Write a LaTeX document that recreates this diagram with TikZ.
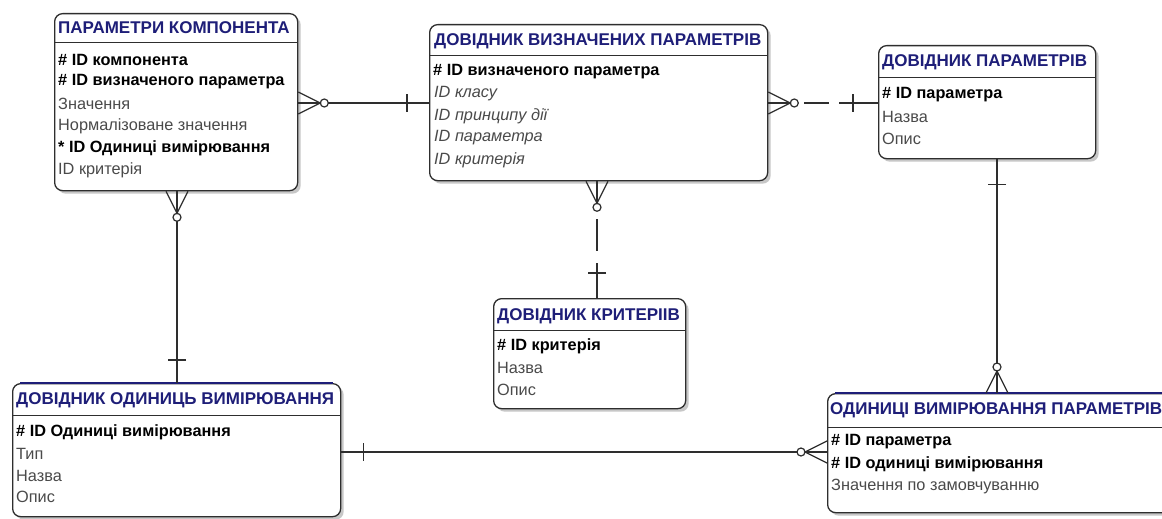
\documentclass[tikz,border=0pt]{standalone}
\usepackage{fontspec}
\setmainfont{Liberation Sans}
\usetikzlibrary{calc,shadows}
\definecolor{titleblue}{HTML}{1E1E78}
\definecolor{attgray}{HTML}{4A4A4A}
\definecolor{edge}{HTML}{2E2E2E}

\tikzset{
  entity/.style={draw=edge, line width=1.3pt, rounded corners=8pt, fill=white,
    anchor=north west, inner sep=0pt,
    drop shadow={shadow xshift=3pt, shadow yshift=-3pt, fill=black!40, opacity=0.55}},
  sepline/.style={draw=edge, line width=1pt},
  etitle/.style={anchor=west, inner sep=0pt, text=titleblue,
    font=\fontsize{17}{19}\selectfont\bfseries},
  keyrow/.style={anchor=west, inner sep=0pt, text=black,
    font=\fontsize{16.3}{18}\selectfont\bfseries},
  attrow/.style={anchor=west, inner sep=0pt, text=attgray,
    font=\fontsize{16.3}{18}\selectfont},
  fkrow/.style={anchor=west, inner sep=0pt, text=attgray,
    font=\fontsize{16.3}{18}\selectfont\itshape},
  conn/.style={draw=edge, line width=1.2pt},
  crowfoot/.pic={
    \draw[conn] (0,-11) -- (22,0) -- (0,11);
    \draw[conn] (0,0) -- (22,0);
    \draw[conn] (26,0) circle (4);
  },
  bar/.pic={\draw[conn] (0,-9) -- (0,9);}
}

\begin{document}
\begin{tikzpicture}[x=1pt,y=-1pt]
\clip (0,0) rectangle (1162,519);
\fill[white] (0,0) rectangle (1162,519);

% ---------- entities ----------
% ПАРАМЕТРИ КОМПОНЕНТА
\node[entity, minimum width=243pt, minimum height=177pt] (pc) at (54,13) {};
\draw[sepline] ($(pc.north west)+(0,30)$) -- ($(pc.north east)+(0,30)$);
\node[etitle] (pcT) at ($(pc.north west)+(4,15)$) {ПАРАМЕТРИ КОМПОНЕНТА};
\node[keyrow] (pc1) at ($(pc.north west)+(4,47)$) {\# ID компонента};
\node[keyrow] (pc2) at ($(pc.north west)+(4,69)$) {\# ID визначеного параметра};
\node[attrow] (pc3) at ($(pc.north west)+(4,91)$) {Значення};
\node[attrow] (pc4) at ($(pc.north west)+(4,113)$) {Нормалізоване значення};
\node[keyrow] (pc5) at ($(pc.north west)+(4,135)$) {* ID Одиниці вимірювання};
\node[attrow] (pc6) at ($(pc.north west)+(4,157)$) {ID критерія};

% ДОВІДНИК ВИЗНАЧЕНИХ ПАРАМЕТРІВ
\node[entity, minimum width=338pt, minimum height=156pt] (dv) at (429,24) {};
\draw[sepline] ($(dv.north west)+(0,32)$) -- ($(dv.north east)+(0,32)$);
\node[etitle] (dvT) at ($(dv.north west)+(5,17)$) {ДОВІДНИК ВИЗНАЧЕНИХ ПАРАМЕТРІВ};
\node[keyrow] (dv1) at ($(dv.north west)+(4,48)$) {\# ID визначеного параметра};
\node[fkrow] (dv2) at ($(dv.north west)+(5,70)$) {ID класу};
\node[fkrow] (dv3) at ($(dv.north west)+(5,92)$) {ID принципу дії};
\node[fkrow] (dv4) at ($(dv.north west)+(5,114)$) {ID параметра};
\node[fkrow] (dv5) at ($(dv.north west)+(5,136)$) {ID критерія};

% ДОВІДНИК ПАРАМЕТРІВ
\node[entity, minimum width=217pt, minimum height=113pt] (dp) at (878,45) {};
\draw[sepline] ($(dp.north west)+(0,33)$) -- ($(dp.north east)+(0,33)$);
\node[etitle] (dpT) at ($(dp.north west)+(4,17)$) {ДОВІДНИК ПАРАМЕТРІВ};
\node[keyrow] (dp1) at ($(dp.north west)+(4,50)$) {\# ID параметра};
\node[attrow] (dp2) at ($(dp.north west)+(4,72)$) {Назва};
\node[attrow] (dp3) at ($(dp.north west)+(4,94)$) {Опис};

% ДОВІДНИК ОДИНИЦЬ ВИМІРЮВАННЯ
\node[entity, minimum width=328pt, minimum height=133pt] (du) at (12,383) {};
\draw[titleblue, line width=1.3pt] ($(du.north west)+(8,0)$) -- ($(du.north east)+(-8,0)$);
\draw[sepline] ($(du.north west)+(0,32)$) -- ($(du.north east)+(0,32)$);
\node[etitle] (duT) at ($(du.north west)+(4,17)$) {ДОВІДНИК ОДИНИЦЬ ВИМІРЮВАННЯ};
\node[keyrow] (du1) at ($(du.north west)+(4,49)$) {\# ID Одиниці вимірювання};
\node[attrow] (du2) at ($(du.north west)+(4,71)$) {Тип};
\node[attrow] (du3) at ($(du.north west)+(4,93)$) {Назва};
\node[attrow] (du4) at ($(du.north west)+(4,114)$) {Опис};

% ОДИНИЦІ ВИМІРЮВАННЯ ПАРАМЕТРІВ
\node[entity, minimum width=348pt, minimum height=119pt] (up) at (827,393) {};
\draw[titleblue, line width=1.3pt] ($(up.north west)+(8,0)$) -- ($(up.north east)+(-8,0)$);
\draw[sepline] ($(up.north west)+(0,34)$) -- ($(up.north east)+(0,34)$);
\node[etitle] (upT) at ($(up.north west)+(3,17)$) {ОДИНИЦІ ВИМІРЮВАННЯ ПАРАМЕТРІВ};
\node[keyrow] (up1) at ($(up.north west)+(4,49)$) {\# ID параметра};
\node[keyrow] (up2) at ($(up.north west)+(4,71)$) {\# ID одиниці вимірювання};
\node[attrow] (up3) at ($(up.north west)+(4,94)$) {Значення по замовчуванню};

% ДОВІДНИК КРИТЕРІІВ
\node[entity, minimum width=192pt, minimum height=110pt] (dk) at (493,298) {};
\draw[sepline] ($(dk.north west)+(0,32)$) -- ($(dk.north east)+(0,32)$);
\node[etitle] (dkT) at ($(dk.north west)+(4,18)$) {ДОВІДНИК КРИТЕРІІВ};
\node[keyrow] (dk1) at ($(dk.north west)+(4,48)$) {\# ID критерія};
\node[attrow] (dk2) at ($(dk.north west)+(4,70)$) {Назва};
\node[attrow] (dk3) at ($(dk.north west)+(4,92)$) {Опис};

% ---------- relationships ----------
% ПАРАМЕТРИ КОМПОНЕНТА >o---|- ДОВІДНИК ВИЗНАЧЕНИХ ПАРАМЕТРІВ
\coordinate (r1a) at ($(pc.north east)+(0,90)$);
\coordinate (r1b) at (r1a -| dv.west);
\pic at (r1a) {crowfoot};
\draw[conn] ($(r1a)+(30,0)$) -- (r1b);
\pic at ($(r1b)+(-22,0)$) {bar};

% ДОВІДНИК ВИЗНАЧЕНИХ ПАРАМЕТРІВ >o- - -|- ДОВІДНИК ПАРАМЕТРІВ
\coordinate (r2a) at ($(dv.north east)+(0,79)$);
\coordinate (r2b) at (r2a -| dp.west);
\pic at (r2a) {crowfoot};
\draw[conn] ($(r2a)+(36,0)$) -- ($(r2a)+(61,0)$);
\draw[conn] ($(r2a)+(71,0)$) -- (r2b);
\pic at ($(r2b)+(-25,0)$) {bar};

% ДОВІДНИК ВИЗНАЧЕНИХ ПАРАМЕТРІВ >o- - -|- ДОВІДНИК КРИТЕРІІВ
\coordinate (r3a) at ($(dv.south west)+(168,0)$);
\coordinate (r3b) at (r3a |- dk.north);
\pic[rotate=-90] at (r3a) {crowfoot};
\draw[conn] ($(r3a)+(0,38)$) -- ($(r3a)+(0,70)$);
\draw[conn] ($(r3a)+(0,82)$) -- (r3b);
\pic[rotate=-90] at ($(r3b)+(0,-25)$) {bar};

% ПАРАМЕТРИ КОМПОНЕНТА >o---|- ДОВІДНИК ОДИНИЦЬ ВИМІРЮВАННЯ
\coordinate (r4a) at ($(pc.south west)+(123,0)$);
\coordinate (r4b) at (r4a |- du.north);
\pic[rotate=-90] at (r4a) {crowfoot};
\draw[conn] ($(r4a)+(0,30)$) -- (r4b);
\pic[rotate=-90] at ($(r4b)+(0,-23)$) {bar};

% ДОВІДНИК ПАРАМЕТРІВ -|---o< ОДИНИЦІ ВИМІРЮВАННЯ ПАРАМЕТРІВ
\coordinate (r5a) at ($(dp.south west)+(119,0)$);
\coordinate (r5b) at (r5a |- up.north);
\pic[rotate=90] at (r5b) {crowfoot};
\draw[conn] (r5a) -- ($(r5b)+(0,-30)$);
\pic[rotate=-90] at ($(r5a)+(0,25)$) {bar};

% ДОВІДНИК ОДИНИЦЬ ВИМІРЮВАННЯ -|---o< ОДИНИЦІ ВИМІРЮВАННЯ ПАРАМЕТРІВ
\coordinate (r6a) at ($(du.north east)+(0,69)$);
\coordinate (r6b) at (r6a -| up.west);
\pic[rotate=180] at (r6b) {crowfoot};
\draw[conn] (r6a) -- ($(r6b)+(-30,0)$);
\pic at ($(r6a)+(22,0)$) {bar};
\end{tikzpicture}
\end{document}
